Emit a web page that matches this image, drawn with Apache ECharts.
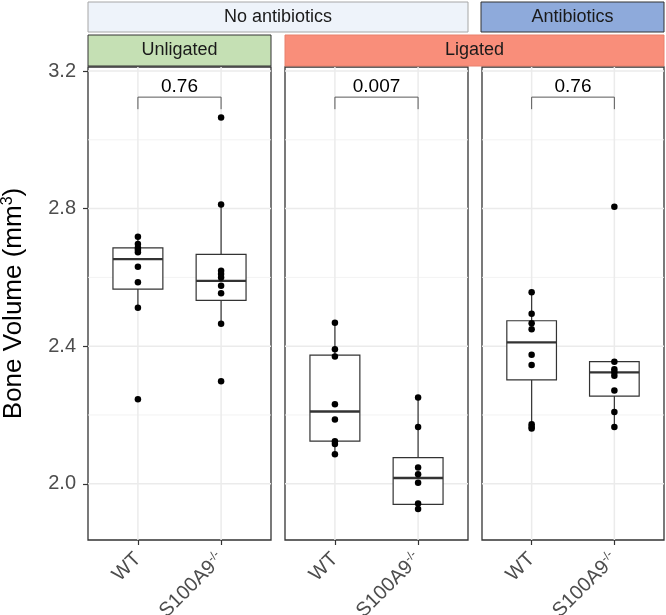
<!DOCTYPE html>
<html><head><meta charset="utf-8">
<script src="https://cdn.jsdelivr.net/npm/echarts@6/dist/echarts.min.js"></script>
<style>html,body{margin:0;padding:0;background:#fff}#c{width:666px;height:615px}</style>
</head><body><div id="c"></div>
<script>
// ---- data ----
const genotypes = ['WT', 'S100A9'];
const treatmentStrips = ['No antibiotics', 'Antibiotics'];
const ligationStrips = ['Unligated', 'Ligated'];
const yTicks = [2.0, 2.4, 2.8, 3.2];
const yMinorTicks = [2.2, 2.6, 3.0];

// box stats: [lower whisker, Q1, median, Q3, upper whisker]
const boxUnligated = [[2.512, 2.566, 2.653, 2.686, 2.718], [2.465, 2.533, 2.590, 2.667, 2.812]];
const boxLigated = [[2.086, 2.124, 2.210, 2.374, 2.468], [1.927, 1.940, 2.017, 2.076, 2.251]];
const boxAntibiotics = [[2.161, 2.302, 2.411, 2.474, 2.557], [2.165, 2.255, 2.324, 2.355, 2.355]];

const ptsUnligatedWT = [2.718, 2.697, 2.686, 2.680, 2.673, 2.631, 2.586, 2.512, 2.246];
const ptsUnligatedKO = [3.065, 2.812, 2.619, 2.610, 2.600, 2.576, 2.554, 2.465, 2.298];
const ptsLigatedWT = [2.468, 2.391, 2.370, 2.231, 2.187, 2.124, 2.116, 2.086];
const ptsLigatedKO = [2.251, 2.165, 2.047, 2.028, 2.003, 1.943, 1.927];
const ptsAntibioticsWT = [2.557, 2.494, 2.467, 2.449, 2.375, 2.345, 2.173, 2.166, 2.161];
const ptsAntibioticsKO = [2.805, 2.355, 2.333, 2.324, 2.314, 2.271, 2.209, 2.165];

const pValues = ['0.76', '0.007', '0.76'];
const bracketY = 3.124;
const bracketTipY = 3.089;

// ---- layout ----
const FONT = "'Liberation Sans', Arial, sans-serif";
const panelLeft = [88, 285, 482];
const panelWidth = [183, 183, 182];
const panelTop = 67, panelHeight = 473;
const yMin = 1.8366, yMax = 3.2116;

const boxes = [boxUnligated, boxLigated, boxAntibiotics];
const pts = [[ptsUnligatedWT, ptsUnligatedKO], [ptsLigatedWT, ptsLigatedKO], [ptsAntibioticsWT, ptsAntibioticsKO]];

const grids = [], xAxes = [], yAxes = [], series = [];
for (let i = 0; i < 3; i++) {
  grids.push({left: panelLeft[i], top: panelTop, width: panelWidth[i], height: panelHeight,
    show: true, borderColor: '#333333', borderWidth: 1.3, backgroundColor: '#ffffff',
    containLabel: false, outerBoundsMode: 'none'});
  xAxes.push({type: 'value', gridIndex: i, min: 0.4, max: 2.6,
    axisLine: {show: false}, splitLine: {show: false},
    axisTick: {show: true, customValues: [1, 2], length: 5, lineStyle: {color: '#333333', width: 1.2}},
    axisLabel: {show: true, customValues: [1, 2], rotate: 45, margin: 16, fontSize: 20, fontFamily: FONT, color: '#4D4D4D',
      formatter: v => v === 1 ? genotypes[0] : genotypes[1] + '{sup|-/-}',
      rich: {sup: {fontSize: 12, fontFamily: FONT, color: '#4D4D4D', verticalAlign: 'top', padding: [0, 0, 10, 0]}}}
  });
  const ya = {type: 'value', gridIndex: i, min: yMin, max: yMax,
    axisLine: {show: false}, splitLine: {show: false}};
  if (i === 0) {
    ya.axisTick = {show: true, customValues: yTicks, length: 5, lineStyle: {color: '#333333', width: 1.2}};
    ya.axisLabel = {show: true, customValues: yTicks, margin: 12, fontSize: 20, fontFamily: FONT, color: '#4D4D4D',
      formatter: v => v.toFixed(1)};
    ya.name = 'Bone Volume (mm{sup|3})';
    ya.nameLocation = 'middle';
    ya.nameGap = 60;
    ya.nameTextStyle = {fontSize: 26, fontFamily: FONT, color: '#000000',
      rich: {sup: {fontSize: 16, fontFamily: FONT, color: '#000000', verticalAlign: 'top', padding: [0, 0, 12, 0]}}};
  } else {
    ya.axisTick = {show: false};
    ya.axisLabel = {show: false};
  }
  yAxes.push(ya);

  // gridlines
  const gl = [];
  yTicks.forEach(v => gl.push([0, v, 1]));
  yMinorTicks.forEach(v => gl.push([0, v, 0]));
  genotypes.forEach((g, k) => gl.push([1, k + 1, 1]));
  series.push({type: 'custom', xAxisIndex: i, yAxisIndex: i, z: 0, silent: true, data: gl,
    renderItem: (params, api) => {
      const cs = params.coordSys;
      const isV = api.value(0) === 1, val = api.value(1), major = api.value(2) === 1;
      const style = {stroke: major ? '#EBEBEB' : '#F2F2F2', lineWidth: major ? 1.5 : 0.9};
      if (isV) {
        const x = api.coord([val, yMin])[0];
        return {type: 'line', shape: {x1: x, y1: cs.y, x2: x, y2: cs.y + cs.height}, style};
      }
      const y = api.coord([1, val])[1];
      return {type: 'line', shape: {x1: cs.x, y1: y, x2: cs.x + cs.width, y2: y}, style};
    }});

  // boxes
  series.push({type: 'custom', xAxisIndex: i, yAxisIndex: i, z: 2, silent: true,
    data: boxes[i].map((b, k) => [k + 1].concat(b)),
    renderItem: (params, api) => {
      const x = api.value(0);
      const lo = api.value(1), q1 = api.value(2), med = api.value(3), q3 = api.value(4), hi = api.value(5);
      const pL = api.coord([x - 0.3, q3]), pR = api.coord([x + 0.3, q1]);
      const c = api.coord([x, med]);
      const pLo = api.coord([x, lo]), pHi = api.coord([x, hi]);
      const stroke = '#333333';
      return {type: 'group', children: [
        {type: 'line', shape: {x1: c[0], y1: pHi[1], x2: c[0], y2: pL[1]}, style: {stroke, lineWidth: 1.2}},
        {type: 'line', shape: {x1: c[0], y1: pR[1], x2: c[0], y2: pLo[1]}, style: {stroke, lineWidth: 1.2}},
        {type: 'rect', shape: {x: pL[0], y: pL[1], width: pR[0] - pL[0], height: pR[1] - pL[1]},
          style: {fill: '#ffffff', stroke, lineWidth: 1.2}},
        {type: 'line', shape: {x1: pL[0], y1: c[1], x2: pR[0], y2: c[1]}, style: {stroke, lineWidth: 2.4}}
      ]};
    }});

  // points
  pts[i].forEach((arr, k) => {
    series.push({type: 'scatter', xAxisIndex: i, yAxisIndex: i, z: 3, silent: true,
      symbol: 'circle', symbolSize: 6.5, itemStyle: {color: '#000000', opacity: 1},
      data: arr.map(v => [k + 1, v])});
  });

  // bracket + p value
  series.push({type: 'custom', xAxisIndex: i, yAxisIndex: i, z: 3, silent: true,
    data: [[1, 2, bracketY, bracketTipY, i]],
    renderItem: (params, api) => {
      const x1 = api.value(0), x2 = api.value(1), by = api.value(2), ty = api.value(3);
      const a = api.coord([x1, ty]), b = api.coord([x1, by]), c = api.coord([x2, by]), d = api.coord([x2, ty]);
      return {type: 'group', children: [
        {type: 'polyline', shape: {points: [a, b, c, d]}, style: {stroke: '#5A5A5A', lineWidth: 1, fill: null}},
        {type: 'text', x: (b[0] + c[0]) / 2, y: b[1] - 1,
          style: {text: pValues[api.value(4)], fontSize: 19, fontFamily: FONT, fill: '#000000',
            align: 'center', verticalAlign: 'bottom'}}
      ]};
    }});
}

// strips
function strip(x, y, w, h, fill, stroke, text) {
  return [
    {type: 'rect', shape: {x, y, width: w, height: h}, style: {fill, stroke, lineWidth: 1}, z: 10},
    {type: 'text', x: x + w / 2, y: y + h / 2, z: 11,
      style: {text, fontSize: 18, fontFamily: FONT, fill: '#1A1A1A', align: 'center', verticalAlign: 'middle'}}
  ];
}
const graphics = [].concat(
  strip(88, 2, 380, 30, '#EEF3FA', '#A6A6A6', treatmentStrips[0]),
  strip(481, 2, 183, 30, '#8EAADB', '#333333', treatmentStrips[1]),
  strip(88, 35, 183, 31, '#C5E0B4', '#333333', ligationStrips[0]),
  strip(285, 35, 379, 31, '#F98E7A', '#E8806D', ligationStrips[1])
);

const chart = echarts.init(document.getElementById('c'), null, {renderer: 'canvas'});
chart.setOption({
  animation: false,
  backgroundColor: '#ffffff',
  grid: grids, xAxis: xAxes, yAxis: yAxes, series,
  graphic: graphics
});
</script></body></html>
